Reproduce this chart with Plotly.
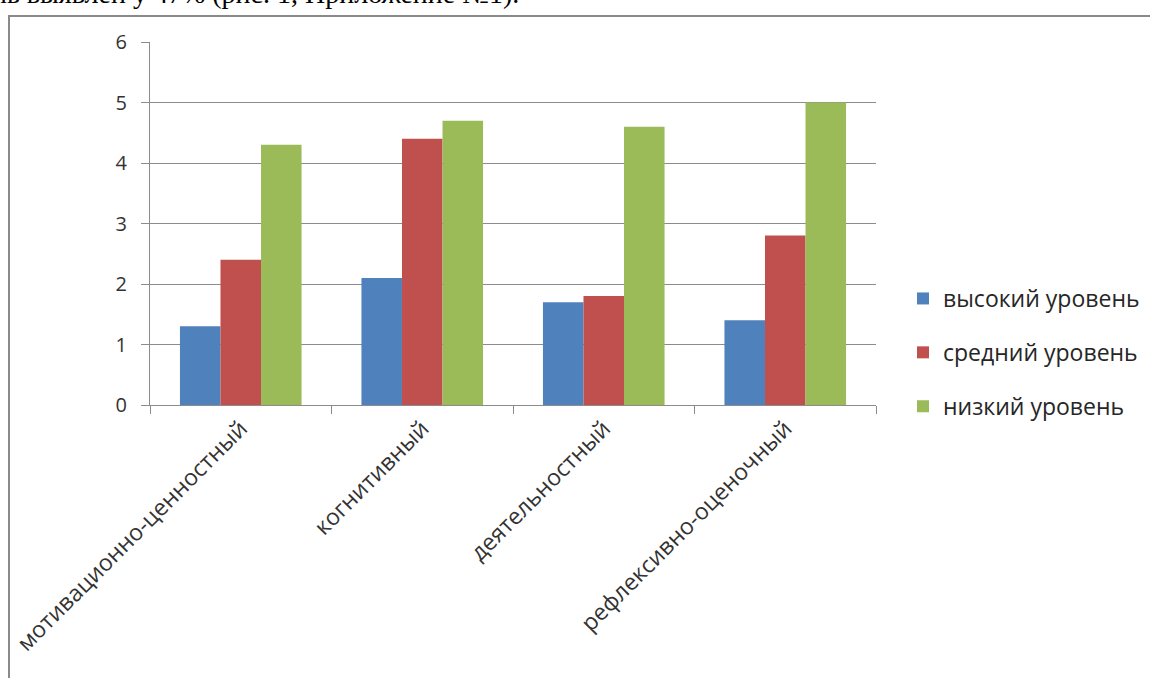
import plotly.graph_objects as go

categories = ["мотивационно-ценностный", "когнитивный", "деятельностный", "рефлексивно-оценочный"]
series_names = ["высокий уровень", "средний уровень", "низкий уровень"]
high = [1.3, 2.1, 1.7, 1.4]
medium = [2.4, 4.4, 1.8, 2.8]
low = [4.3, 4.7, 4.6, 5.0]
y_ticks = [0, 1, 2, 3, 4, 5, 6]
colors = ["#4F81BD", "#C0504D", "#9BBB59"]

W, H = 1150, 678
L, R, T, B = 150, 274, 42, 273
pw, ph = W - L - R, H - T - B

def px_x(px):
    return (px - L) / pw

def px_y(py):
    return (H - B - py) / ph

fig = go.Figure()
for name, vals, col in zip(series_names, [high, medium, low], colors):
    fig.add_trace(go.Bar(x=categories, y=vals, name=name, marker_color=col,
                         marker_line_width=0, legendgroup=name))

fig.update_layout(
    width=W, height=H,
    margin=dict(l=L, r=R, t=T, b=B, autoexpand=False),
    paper_bgcolor="white", plot_bgcolor="white",
    barmode="group", bargap=0.33, bargroupgap=0,
    font=dict(family="Open Sans", color="#333333"),
    showlegend=True,
    legend=dict(x=px_x(903), y=px_y(277), xanchor="left", yanchor="top",
                font=dict(family="Open Sans", size=23, color="#262626"),
                traceorder="grouped", tracegroupgap=21, itemwidth=30,
                bgcolor="rgba(0,0,0,0)"),
    xaxis=dict(type="category", tickson="boundaries", ticks="outside", ticklen=8,
               tickcolor="#8c8c8c", showline=True, linecolor="#8c8c8c", linewidth=1,
               tickangle=-45, tickfont=dict(size=23, color="#333333"),
               showgrid=False, zeroline=False),
    yaxis=dict(range=[0, 6], tickvals=y_ticks, ticks="outside", ticklen=8,
               tickcolor="#8c8c8c", showline=True, linecolor="#8c8c8c", linewidth=1,
               showgrid=True, gridcolor="#8c8c8c", gridwidth=1, zeroline=False,
               tickfont=dict(size=20, color="#333333"), ticklabelstandoff=10),
    shapes=[dict(type="rect", xref="paper", yref="paper",
                 x0=px_x(9), x1=px_x(1300), y0=px_y(800), y1=px_y(16),
                 line=dict(color="#8a8a8a", width=2), layer="below")],
    annotations=[dict(text="нь выявлен у 47% (рис. 1, Приложение №1).",
                      xref="paper", yref="paper", x=px_x(-10), y=px_y(11),
                      xanchor="left", yanchor="bottom", showarrow=False,
                      font=dict(family="Liberation Serif", size=28, color="black"))],
)

fig.write_html("out.html")
